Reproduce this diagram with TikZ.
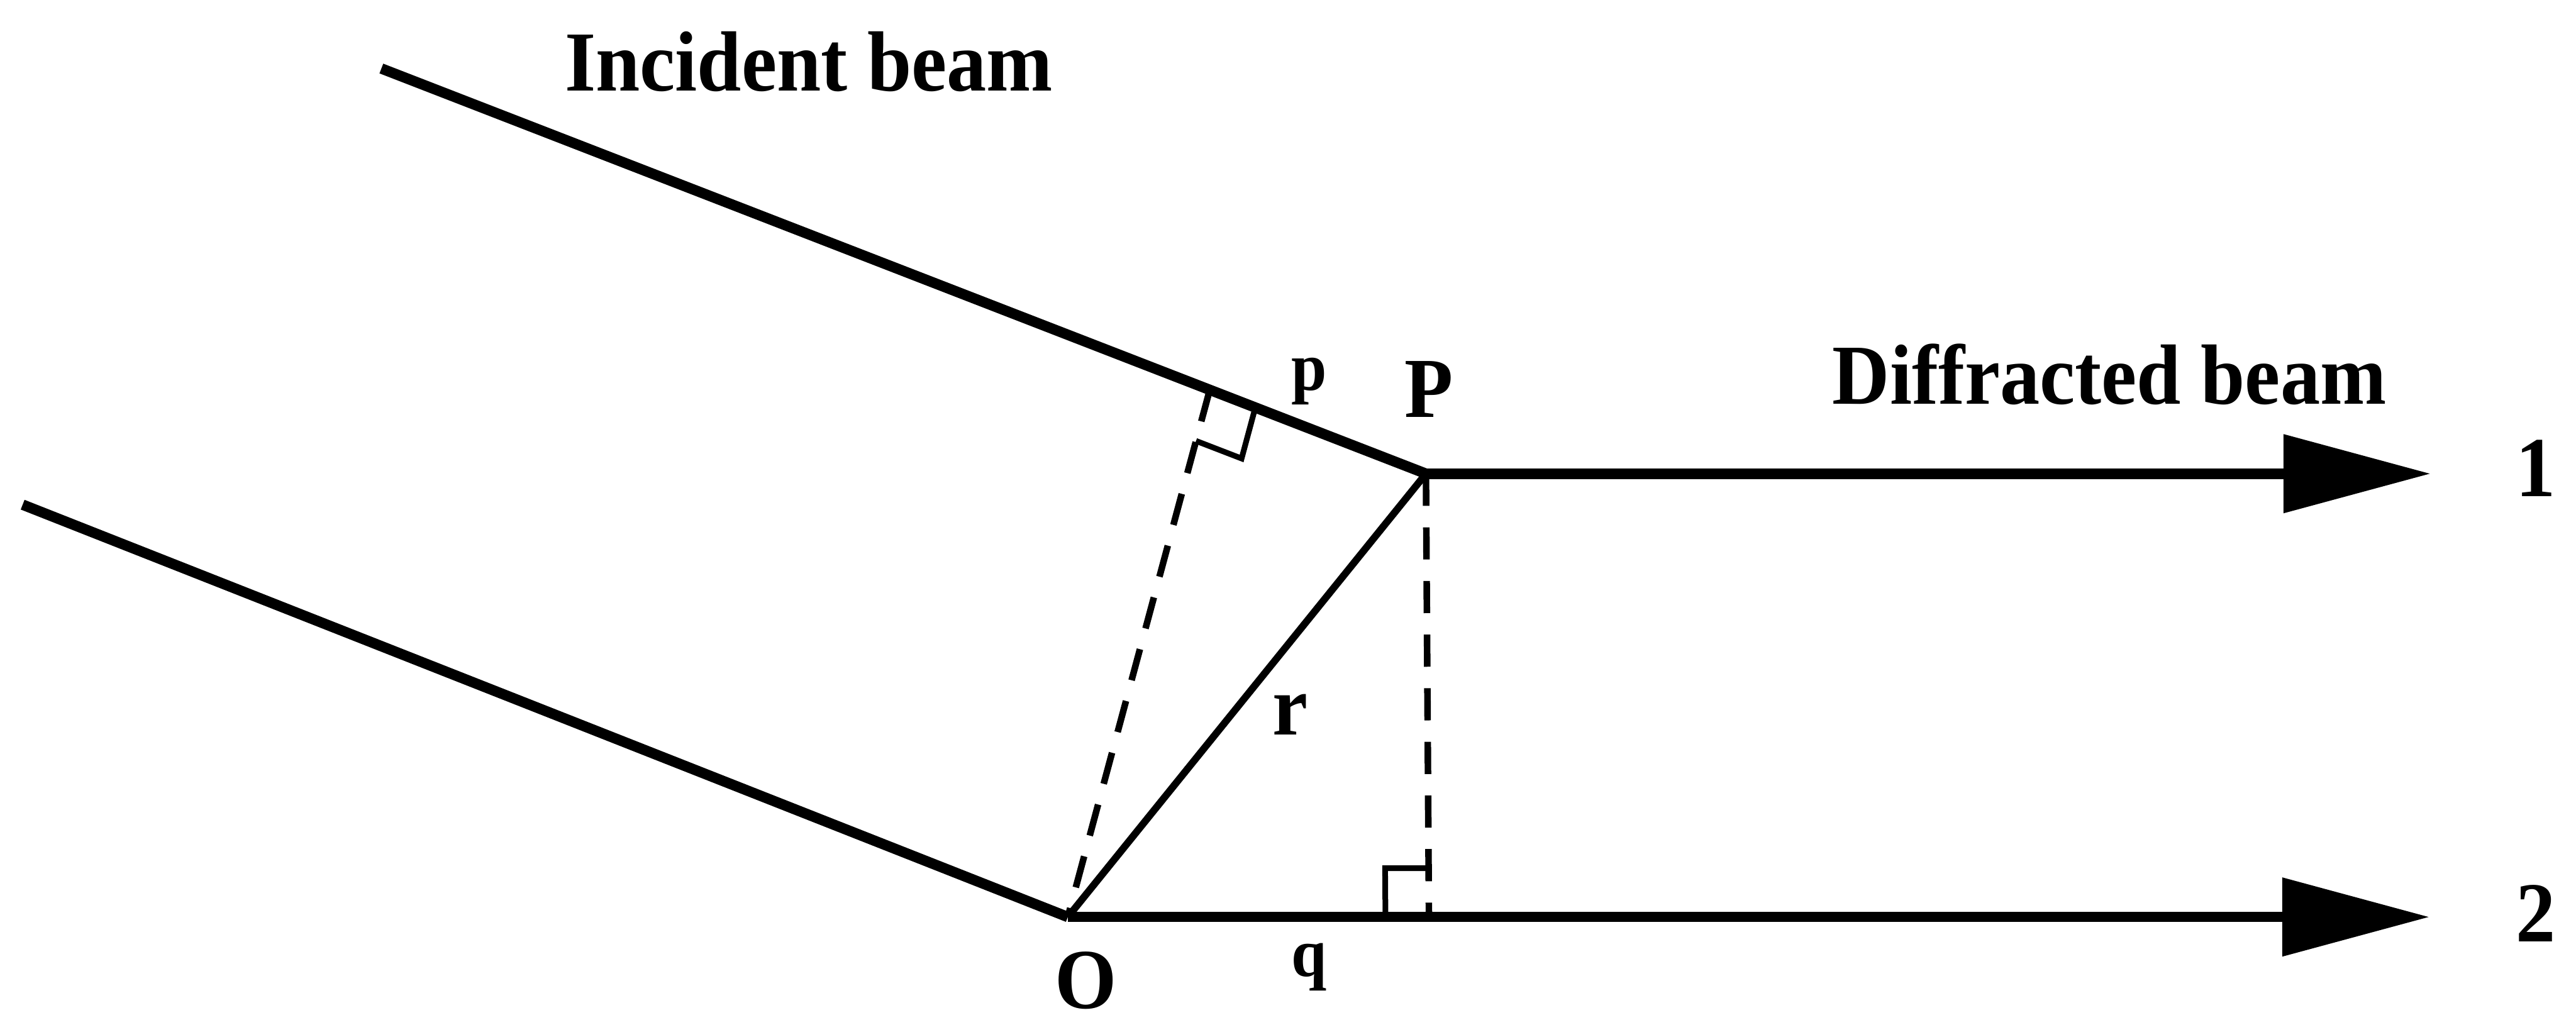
\documentclass[tikz,border=0pt]{standalone}
\usepackage{fontspec}
\setmainfont{Liberation Serif}[FakeStretch=0.93]
\usetikzlibrary{arrows.meta,calc}
\begin{document}
\begin{tikzpicture}[
  beam/.style={line width=0.175cm, line join=miter},
  thinline/.style={line width=0.12cm},
  perp/.style={line width=0.11cm, dash pattern=on 0.54cm off 0.36cm},
  sqmark/.style={line width=0.095cm, line join=miter},
  arrowbeam/.style={beam, -{Triangle[length=24.7mm,width=12.8mm]}},
  biglabel/.style={inner sep=0pt, anchor=base, font=\fontsize{40.8}{48}\selectfont\bfseries},
  smalllabel/.style={inner sep=0pt, anchor=base, font=\fontsize{32.7}{38}\selectfont\bfseries}
]
\useasboundingbox (0,0) rectangle (43.23,-17.11);
% key points
\coordinate (A1) at (6.40,-1.15);
\coordinate (A2) at (0.38,-8.47);
\coordinate (P) at (23.93,-7.95);
\coordinate (O) at (17.92,-15.39);
\coordinate (T1) at (40.79,-7.95);
\coordinate (T2) at (40.77,-15.39);
\coordinate (F) at (20.30,-6.55);
\coordinate (Q) at (23.98,-15.39);
% incident beams
\draw[beam] (A1) -- (P);
\draw[beam] (A2) -- (O);
% diffracted beams
\draw[arrowbeam] (P) -- (T1);
\draw[arrowbeam] (O) -- (T2);
% r
\draw[thinline] (O) -- (P);
% dashed perpendiculars
\draw[perp] (F) -- (O);
\draw[perp] (P) -- (Q);
% right angle marks
\coordinate (Fa) at ($(F)!0.82cm!(P)$);
\coordinate (Fb) at ($(F)!0.88cm!(O)$);
\draw[sqmark] (Fa) -- ($(Fa)+(Fb)-(F)$) -- (Fb);
\coordinate (Qa) at ($(Q)!0.73cm!(O)$);
\coordinate (Qb) at ($(Q)!0.82cm!(P)$);
\draw[sqmark] (Qa) -- ($(Qa)+(Qb)-(Q)$) -- (Qb);
% labels
\node[biglabel] (incident) at (13.575,-1.52) {Incident beam};
\node[biglabel] (diffracted) at (35.40,-6.78) {Diffracted beam};
\node[smalllabel] (lp) at (21.97,-6.55) {p};
\node[biglabel] (lP) at (23.98,-7.00) {P};
\node[biglabel] (lr) at (21.65,-12.33) {r};
\node[biglabel] (lO) at (18.22,-16.92) {O};
\node[smalllabel] (lq) at (21.97,-16.38) {q};
\node[biglabel] (l1) at (42.56,-8.33) {1};
\node[biglabel] (l2) at (42.56,-15.80) {2};
\end{tikzpicture}
\end{document}
